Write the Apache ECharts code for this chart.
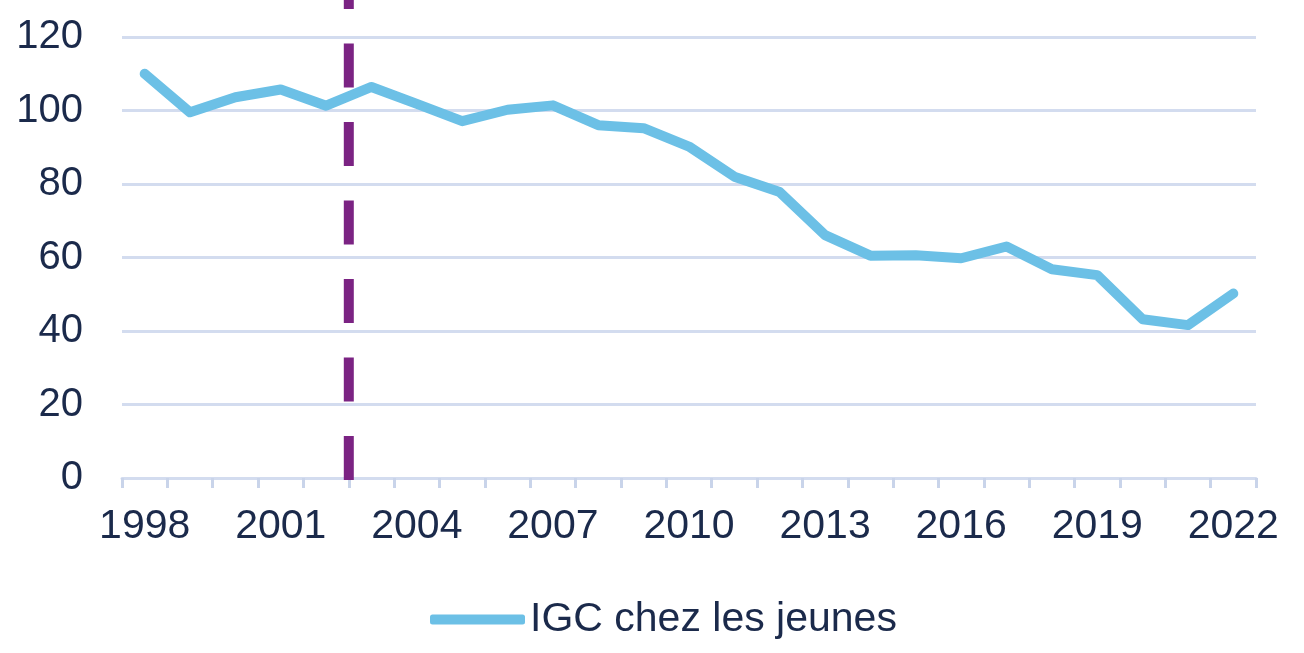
<!DOCTYPE html>
<html>
<head>
<meta charset="utf-8">
<script src="https://cdn.jsdelivr.net/npm/echarts@6/dist/echarts.min.js"></script>
<style>
  html, body { margin: 0; padding: 0; background: #fff; }
  #container { width: 1304px; height: 653px; }
</style>
</head>
<body>
<div id="container"></div>
<script>
// data
var years = ["1998", "1999", "2000", "2001", "2002", "2003", "2004", "2005", "2006",
  "2007", "2008", "2009", "2010", "2011", "2012", "2013", "2014", "2015", "2016",
  "2017", "2018", "2019", "2020", "2021", "2022"];
var igcJeunes = [110, 99.5, 103.6, 105.7, 101.3, 106.4, 101.8, 97.1, 100.2,
  101.4, 96, 95.2, 90.2, 82, 77.8, 66.1, 60.5, 60.6, 59.8,
  63, 56.8, 55.2, 43.2, 41.6, 50.2];
var yTicks = { min: 0, max: 120, interval: 20 };
// the dashed marker sits on the boundary between 2002 and 2003 (5 categories in)
var markerPos = 5;

var navy = "#1b2a4b";
var gridColor = "#d3dcef";
var lineColor = "#6cc0e6";
var purple = "#7b2383";
var font = "Liberation Sans, Arial, sans-serif";

var dom = document.getElementById("container");
var myChart = echarts.init(dom);

var option = {
  animation: false,
  textStyle: { fontFamily: font },
  legend: {
    left: 425,
    top: 594,
    itemWidth: 95,
    itemHeight: 10,
    itemGap: 10,
    textStyle: { color: navy, fontSize: 41, fontFamily: font },
    data: [{ name: "IGC chez les jeunes", icon: "roundRect", itemStyle: { color: lineColor } }],
  },
  grid: [
    { left: 122, right: 48, top: 37, bottom: 175 },
    // invisible grid spanning full height, used only for the dashed marker
    { left: 122, right: 48, top: 0, bottom: 173 },
  ],
  xAxis: [
    {
      type: "category",
      gridIndex: 0,
      data: years,
      boundaryGap: true,
      axisLine: { lineStyle: { color: gridColor, width: 3 } },
      axisTick: {
        show: true,
        interval: 0,
        alignWithLabel: false,
        length: 10,
        lineStyle: { color: "#c9d4ea", width: 3 },
      },
      axisLabel: {
        interval: 2,
        color: navy,
        fontSize: 41,
        margin: 28,
        fontFamily: font,
      },
      splitLine: { show: false },
    },
    {
      type: "value",
      gridIndex: 1,
      min: 0,
      max: years.length,
      show: false,
    },
  ],
  yAxis: [
    {
      type: "value",
      gridIndex: 0,
      min: yTicks.min,
      max: yTicks.max,
      interval: yTicks.interval,
      axisLine: { show: false },
      axisTick: { show: false },
      axisLabel: {
        color: navy,
        fontSize: 40,
        margin: 39,
        fontFamily: font,
      },
      splitLine: { lineStyle: { color: gridColor, width: 3 } },
    },
    {
      type: "value",
      gridIndex: 1,
      min: 0,
      max: 1,
      show: false,
    },
  ],
  series: [
    {
      name: "IGC chez les jeunes",
      type: "line",
      xAxisIndex: 0,
      yAxisIndex: 0,
      data: igcJeunes,
      symbol: "none",
      lineStyle: { color: lineColor, width: 10, cap: "round", join: "round" },
      itemStyle: { color: lineColor },
      z: 3,
    },
    {
      name: "marker",
      type: "line",
      xAxisIndex: 1,
      yAxisIndex: 1,
      data: [[markerPos, 0], [markerPos, 1]],
      symbol: "none",
      silent: true,
      lineStyle: { color: purple, width: 10, type: [44, 34.5] },
      z: 2,
    },
  ],
};

if (option && typeof option === "object") {
  myChart.setOption(option, true);
}
</script>
</body>
</html>
